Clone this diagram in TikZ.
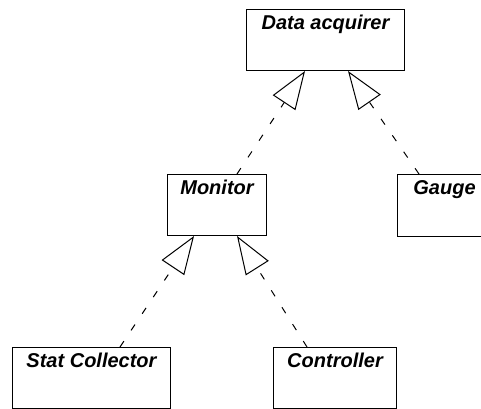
\documentclass[tikz,border=0pt]{standalone}
\usepackage{fontspec}
\setmainfont{Liberation Sans}
\usetikzlibrary{arrows.meta}
\begin{document}
\begin{tikzpicture}[x=1pt,y=-1pt,
  classbox/.style={draw, line width=1pt, rectangle, anchor=north west, inner sep=0pt},
  classname/.style={anchor=base, inner sep=0pt, font=\fontsize{20}{22}\selectfont\bfseries\itshape},
  realizes/.style={line width=1pt, dash pattern=on 7pt off 13pt,
    -{Triangle[open, length=38pt, width=27pt, line width=1pt]}}]
\useasboundingbox (0,0) rectangle (481,408);
% class boxes
\node[classbox, minimum width=158pt, minimum height=61pt] (acq) at (246,9) {};
\node[classbox, minimum width=99pt, minimum height=61pt] (mon) at (167,174) {};
\node[classbox, minimum width=94pt, minimum height=62pt] (gau) at (397,174) {};
\node[classbox, minimum width=158pt, minimum height=61pt] (sta) at (12,347) {};
\node[classbox, minimum width=123pt, minimum height=61pt] (con) at (273,347) {};
% class names
\node[classname] (acqT) at ([yshift=-20pt]acq.north) {Data acquirer};
\node[classname] (monT) at ([yshift=-20pt]mon.north) {Monitor};
\node[classname] (gauT) at ([yshift=-20pt]gau.north) {Gauge};
\node[classname] (staT) at ([yshift=-20pt]sta.north) {Stat Collector};
\node[classname] (conT) at ([yshift=-20pt]con.north) {Controller};
% realization arrows
\draw[realizes] ([xshift=70pt]mon.north west) -- ([xshift=59pt]acq.south west);
\draw[realizes] ([xshift=22pt]gau.north west) -- ([xshift=102pt]acq.south west);
\draw[realizes] ([xshift=108pt]sta.north west) -- ([xshift=27pt]mon.south west);
\draw[realizes] ([xshift=34pt]con.north west) -- ([xshift=70pt]mon.south west);
\end{tikzpicture}
\end{document}
